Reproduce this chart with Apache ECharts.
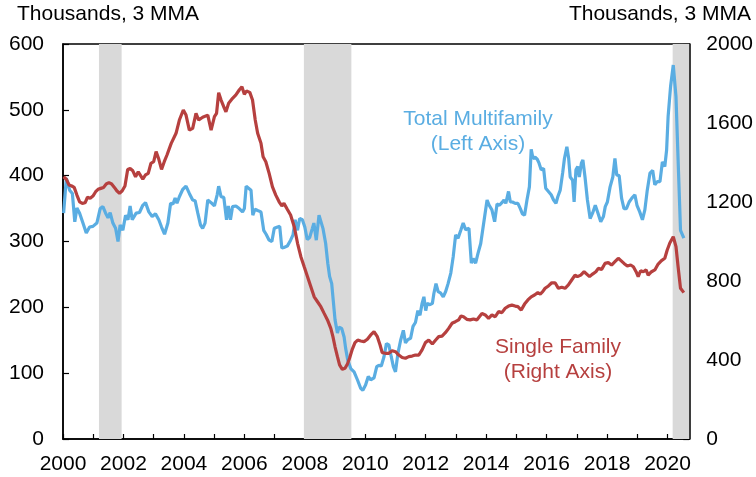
<!DOCTYPE html>
<html>
<head>
<meta charset="utf-8">
<script src="https://cdn.jsdelivr.net/npm/echarts@6/dist/echarts.min.js"></script>
<style>
  html, body { margin: 0; padding: 0; background: #fff; }
  #chart { width: 756px; height: 477px; }
</style>
</head>
<body>
<div id="chart"></div>
<script>
// Total multifamily starts (left axis), thousands, 3 MMA
var mfYears = [2000.02, 2000.11, 2000.22, 2000.31, 2000.39, 2000.46, 2000.55, 2000.66, 2000.77, 2000.88, 2000.99,
  2001.12, 2001.23, 2001.32, 2001.41, 2001.49, 2001.56, 2001.65, 2001.74, 2001.82, 2001.89, 2001.98,
  2002.07, 2002.15, 2002.22, 2002.29, 2002.42, 2002.53, 2002.64, 2002.73, 2002.84, 2002.95,
  2003.06, 2003.17, 2003.26, 2003.36, 2003.47, 2003.56, 2003.64, 2003.71, 2003.77, 2003.85, 2003.96,
  2004.07, 2004.18, 2004.29, 2004.37, 2004.46, 2004.55, 2004.62, 2004.70, 2004.79, 2004.90,
  2005.01, 2005.10, 2005.15, 2005.23, 2005.32, 2005.41, 2005.47, 2005.54, 2005.61, 2005.72, 2005.83, 2005.94,
  2006.00, 2006.06, 2006.14, 2006.22, 2006.28, 2006.35, 2006.44, 2006.55, 2006.64, 2006.72, 2006.82, 2006.91, 2006.99,
  2007.10, 2007.17, 2007.24, 2007.31, 2007.42, 2007.53, 2007.61, 2007.68, 2007.76, 2007.83, 2007.92,
  2008.00, 2008.08, 2008.16, 2008.25, 2008.30, 2008.38, 2008.47, 2008.52, 2008.60, 2008.69, 2008.76, 2008.82, 2008.89, 2008.94,
  2009.00, 2009.08, 2009.13, 2009.22, 2009.30, 2009.35, 2009.42, 2009.52, 2009.63, 2009.74, 2009.85, 2009.92,
  2010.01, 2010.10, 2010.18, 2010.29, 2010.38, 2010.45, 2010.53, 2010.62, 2010.70, 2010.78, 2010.86, 2010.93,
  2011.00, 2011.08, 2011.17, 2011.26, 2011.33, 2011.41, 2011.50, 2011.58, 2011.66, 2011.74, 2011.81, 2011.88, 2011.94,
  2012.00, 2012.05, 2012.14, 2012.22, 2012.27, 2012.34, 2012.41, 2012.49, 2012.58, 2012.66, 2012.74, 2012.83, 2012.91, 2012.99,
  2013.07, 2013.16, 2013.24, 2013.32, 2013.43, 2013.51, 2013.57, 2013.65, 2013.73, 2013.82, 2013.95,
  2014.03, 2014.10, 2014.19, 2014.28, 2014.36, 2014.44, 2014.52, 2014.59, 2014.65, 2014.74, 2014.80, 2014.87, 2014.96,
  2015.05, 2015.13, 2015.20, 2015.27, 2015.35, 2015.43, 2015.49, 2015.55, 2015.62, 2015.69, 2015.75, 2015.82, 2015.90, 2015.97,
  2016.06, 2016.15, 2016.23, 2016.31, 2016.37, 2016.45, 2016.53, 2016.59, 2016.67, 2016.73, 2016.78, 2016.86, 2016.91, 2016.97,
  2017.03, 2017.08, 2017.15, 2017.20, 2017.27, 2017.35, 2017.44, 2017.52, 2017.61, 2017.70, 2017.79, 2017.88, 2017.94,
  2018.01, 2018.10, 2018.19, 2018.26, 2018.32, 2018.40, 2018.48, 2018.56, 2018.64, 2018.73, 2018.82, 2018.92, 2018.99,
  2019.08, 2019.17, 2019.25, 2019.33, 2019.42, 2019.51, 2019.58, 2019.66, 2019.75, 2019.83, 2019.91, 2019.97,
  2020.02, 2020.10, 2020.19, 2020.28, 2020.35, 2020.43, 2020.54];
var mfValues = [343, 396, 378, 373, 330, 351, 343, 328, 313, 322, 323,
  328, 350, 353, 343, 336, 344, 328, 320, 300, 325, 317,
  340, 333, 354, 333, 343, 344, 355, 359, 345, 338,
  342, 333, 322, 311, 328, 358, 357, 366, 358, 368, 379,
  384, 373, 363, 362, 343, 325, 320, 328, 363, 359,
  354, 371, 384, 368, 367, 333, 354, 333, 353, 354, 350, 345,
  350, 384, 381, 378, 340, 349, 347, 345, 317, 311, 302, 300, 320,
  322, 323, 290, 291, 293, 302, 310, 333, 317, 335, 333,
  322, 303, 306, 320, 328, 302, 340, 338, 320, 297, 267, 247, 236, 211,
  181, 161, 170, 168, 155, 138, 120, 107, 102, 90, 77, 74,
  82, 95, 90, 93, 110, 112, 111, 125, 145, 143, 125, 110,
  102, 130, 150, 165, 146, 151, 153, 171, 177, 195, 188, 206, 216,
  195, 206, 204, 206, 221, 236, 224, 222, 216, 224, 236, 252, 277, 310,
  305, 317, 328, 318, 320, 267, 274, 267, 282, 297, 338,
  363, 355, 348, 330, 357, 355, 359, 363, 358, 376, 360, 360, 358,
  358, 350, 342, 340, 363, 383, 440, 426, 428, 425, 419, 409, 411, 381,
  376, 371, 363, 358, 368, 378, 404, 426, 444, 426, 398, 393, 360, 409,
  414, 398, 419, 424, 398, 363, 335, 343, 355, 343, 330, 338, 353,
  360, 383, 398, 426, 401, 400, 366, 350, 350, 360, 366, 371, 355,
  345, 333, 348, 378, 404, 408, 386, 391, 391, 421, 414, 439,
  490, 535, 568, 520, 424, 317, 305];

// Single-family starts (right axis), thousands, 3 MMA
var sfYears = [2000.02, 2000.11, 2000.20, 2000.29, 2000.37, 2000.46, 2000.55, 2000.64, 2000.73, 2000.81, 2000.90, 2000.99,
  2001.08, 2001.16, 2001.25, 2001.34, 2001.43, 2001.52, 2001.61, 2001.70, 2001.78, 2001.87, 2001.96,
  2002.05, 2002.14, 2002.22, 2002.31, 2002.40, 2002.49, 2002.55, 2002.64, 2002.73, 2002.82, 2002.91,
  2003.00, 2003.08, 2003.17, 2003.26, 2003.35, 2003.44, 2003.58, 2003.74, 2003.85, 2003.98,
  2004.07, 2004.18, 2004.29, 2004.40, 2004.49, 2004.62, 2004.79, 2004.90,
  2005.01, 2005.08, 2005.15, 2005.23, 2005.34, 2005.39, 2005.48, 2005.61, 2005.72, 2005.83, 2005.92,
  2006.00, 2006.07, 2006.18, 2006.27, 2006.36, 2006.44, 2006.55, 2006.62, 2006.71, 2006.82, 2006.93,
  2007.04, 2007.15, 2007.24, 2007.31, 2007.42, 2007.53, 2007.65, 2007.76, 2007.87, 2007.98,
  2008.09, 2008.20, 2008.31, 2008.42, 2008.53, 2008.64, 2008.75, 2008.86, 2008.93,
  2009.00, 2009.08, 2009.15, 2009.24, 2009.33, 2009.41, 2009.48, 2009.57, 2009.66, 2009.75, 2009.85, 2009.96,
  2010.07, 2010.18, 2010.29, 2010.40, 2010.49, 2010.56, 2010.67, 2010.78, 2010.89,
  2011.00, 2011.11, 2011.22, 2011.33, 2011.44, 2011.55, 2011.66, 2011.77, 2011.88, 2011.99,
  2012.10, 2012.22, 2012.33, 2012.43, 2012.54, 2012.65, 2012.76, 2012.87, 2012.98,
  2013.09, 2013.17, 2013.25, 2013.36, 2013.47, 2013.58, 2013.69, 2013.86, 2013.97,
  2014.08, 2014.19, 2014.30, 2014.41, 2014.52, 2014.63, 2014.74, 2014.85, 2014.96,
  2015.05, 2015.16, 2015.27, 2015.38, 2015.49, 2015.60, 2015.71, 2015.79, 2015.87, 2015.95,
  2016.06, 2016.17, 2016.28, 2016.39, 2016.50, 2016.61, 2016.72, 2016.83, 2016.94,
  2017.02, 2017.13, 2017.24, 2017.42, 2017.52, 2017.63, 2017.71, 2017.82, 2017.93,
  2018.04, 2018.15, 2018.26, 2018.37, 2018.46, 2018.56, 2018.67, 2018.78, 2018.87, 2018.96,
  2019.03, 2019.11, 2019.20, 2019.29, 2019.36, 2019.47, 2019.58, 2019.69, 2019.80, 2019.91, 2019.99,
  2020.08, 2020.19, 2020.28, 2020.35, 2020.43, 2020.54];
var sfValues = [1328, 1315, 1286, 1281, 1274, 1235, 1201, 1193, 1196, 1224, 1219, 1230,
  1252, 1264, 1269, 1274, 1291, 1298, 1291, 1274, 1257, 1244, 1257,
  1281, 1365, 1370, 1358, 1328, 1353, 1362, 1316, 1337, 1345, 1396,
  1404, 1455, 1416, 1365, 1404, 1438, 1497, 1548, 1615, 1666,
  1640, 1564, 1573, 1649, 1615, 1629, 1640, 1564,
  1632, 1649, 1753, 1716, 1674, 1657, 1700, 1725, 1742, 1767, 1784,
  1745, 1762, 1755, 1716, 1615, 1548, 1497, 1429, 1404, 1345, 1277,
  1235, 1201, 1180, 1193, 1163, 1134, 1075, 991, 923, 872,
  822, 771, 720, 695, 670, 636, 603, 560, 518,
  467, 417, 375, 353, 358, 380, 409, 454, 488, 501, 496, 493,
  505, 527, 543, 518, 476, 437, 434, 434, 447,
  442, 425, 413, 409, 417, 420, 425, 425, 451, 488,
  501, 481, 501, 518, 521, 538, 560, 586, 594,
  603, 623, 619, 606, 603, 608, 603, 636, 628,
  611, 628, 619, 645, 640, 662, 673, 678, 673,
  670, 653, 683, 704, 720, 729, 741, 734, 746, 763,
  775, 791, 791, 763, 768, 763, 780, 805, 830,
  822, 830, 847, 822, 835, 847, 864, 859, 889,
  893, 881, 898, 915, 903, 889, 876, 881, 872, 847,
  822, 852, 847, 856, 830, 847, 856, 886, 903, 915, 957,
  994, 1024, 974, 872, 763, 741];

// recessions (shaded)
var recStart = [2001.19, 2007.97, 2020.17];
var recEnd = [2001.94, 2009.54, 2020.72];

var xMin = 2000, xMax = 2020.72;
var leftTicks = [0, 600, 100];
var rightTicks = [0, 2000, 400];

function pairs(xs, ys) {
    var out = [];
    for (var i = 0; i < xs.length; i++) out.push([xs[i], ys[i]]);
    return out;
}

var recAreas = [];
for (var i = 0; i < recStart.length; i++) {
    recAreas.push([{ xAxis: recStart[i] }, { xAxis: recEnd[i] }]);
}

var font = "'Liberation Sans', Arial, Helvetica, sans-serif";
var blue = '#5aade2';
var red = '#b6403f';

var chart = echarts.init(document.getElementById('chart'));
chart.setOption({
    animation: false,
    textStyle: { fontFamily: font },
    grid: {
        left: 63, right: 66, top: 44, bottom: 38,
        show: true, borderColor: '#000', borderWidth: 1.5
    },
    xAxis: {
        type: 'value',
        min: xMin, max: xMax, interval: 1,
        axisLine: { lineStyle: { color: '#000', width: 1.5 } },
        axisTick: { inside: true, length: 5, lineStyle: { color: '#000', width: 1.2 } },
        axisLabel: {
            color: '#000', fontSize: 21, margin: 15, fontFamily: font,
            showMaxLabel: false,
            formatter: function (v) { return (v % 2 === 0) ? String(v) : ''; }
        },
        splitLine: { show: false }
    },
    yAxis: [{
        type: 'value',
        min: leftTicks[0], max: leftTicks[1], interval: leftTicks[2],
        axisLine: { show: true, lineStyle: { color: '#000', width: 1.5 } },
        axisTick: { show: true, inside: true, length: 6, lineStyle: { color: '#000', width: 1.2 } },
        axisLabel: { color: '#000', fontSize: 21, margin: 19, fontFamily: font },
        splitLine: { show: false }
    }, {
        type: 'value',
        position: 'right',
        min: rightTicks[0], max: rightTicks[1], interval: rightTicks[2],
        axisLine: { show: true, lineStyle: { color: '#000', width: 1.5 } },
        axisTick: { show: true, inside: true, length: 6, lineStyle: { color: '#000', width: 1.2 } },
        axisLabel: {
            color: '#000', fontSize: 21, margin: 17, fontFamily: font,
            formatter: function (v) { return String(v); }
        },
        splitLine: { show: false }
    }],
    series: [{
        name: 'Recessions',
        type: 'line',
        data: [],
        silent: true,
        markArea: {
            silent: true,
            itemStyle: { color: '#d9d9d9' },
            data: recAreas
        }
    }, {
        name: 'Total Multifamily',
        type: 'line',
        yAxisIndex: 0,
        data: pairs(mfYears, mfValues),
        showSymbol: false,
        lineStyle: { color: blue, width: 3.2 },
        itemStyle: { color: blue }
    }, {
        name: 'Single Family',
        type: 'line',
        yAxisIndex: 1,
        data: pairs(sfYears, sfValues),
        showSymbol: false,
        lineStyle: { color: red, width: 3.2 },
        itemStyle: { color: red }
    }],
    graphic: [
        { type: 'text', left: 17, top: 4, style: { text: 'Thousands, 3 MMA', font: '21px ' + font, fill: '#000' } },
        { type: 'text', right: 5, top: 4, style: { text: 'Thousands, 3 MMA', font: '21px ' + font, fill: '#000' } },
        { type: 'text', x: 478, y: 107, style: { text: 'Total Multifamily\n(Left Axis)', font: '21px ' + font, fill: blue, textAlign: 'center', lineHeight: 25 } },
        { type: 'text', x: 558, y: 335, style: { text: 'Single Family\n(Right Axis)', font: '21px ' + font, fill: red, textAlign: 'center', lineHeight: 25 } }
    ]
});
</script>
</body>
</html>
